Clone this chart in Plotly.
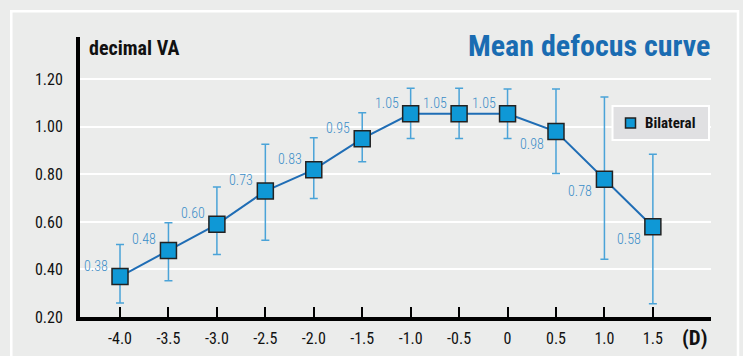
import plotly.graph_objects as go

# ---- data ----
defocus = [-4.0, -3.5, -3.0, -2.5, -2.0, -1.5, -1.0, -0.5, 0.0, 0.5, 1.0, 1.5]
mean_va = [0.37, 0.48, 0.59, 0.73, 0.82, 0.95, 1.055, 1.055, 1.055, 0.98, 0.78, 0.58]
upper_va = [0.505, 0.597, 0.747, 0.927, 0.954, 1.059, 1.162, 1.162, 1.159, 1.159, 1.126, 0.885]
lower_va = [0.259, 0.352, 0.463, 0.523, 0.699, 0.853, 0.951, 0.951, 0.951, 0.804, 0.443, 0.256]
value_labels = ["0.38", "0.48", "0.60", "0.73", "0.83", "0.95", "1.05", "1.05", "1.05",
                "0.98", "0.78", "0.58"]
label_side = ["above"] * 9 + ["below"] * 3
x_tick_vals = [-4.0, -3.5, -3.0, -2.5, -2.0, -1.5, -1.0, -0.5, 0.0, 0.5, 1.0, 1.5]
x_tick_text = ["-4.0", "-3.5", "-3.0", "-2.5", "-2.0", "-1.5", "-1.0", "-0.5", "0", "0.5", "1.0", "1.5"]
y_tick_vals = [0.2, 0.4, 0.6, 0.8, 1.0, 1.2]
y_tick_text = ["0.20", "0.40", "0.60", "0.80", "1.00", "1.20"]
series_name = "Bilateral"

# ---- styling ----
W, H = 743, 356
ML, MR, MT, MB = 80, 32, 37, 39
PW, PH = W - ML - MR, H - MT - MB
FONT = "Roboto Condensed, Liberation Sans Narrow, DejaVu Sans Condensed, sans-serif"
BG = "#ebeceb"
LINE_BLUE = "#1f6db5"
MARK_BLUE = "#0f98d6"
ERR_BLUE = "#4aa3d8"
LABEL_BLUE = "#3a8dc8"
TITLE_BLUE = "#1a6cb2"


def px(x):
    return (x - ML) / PW


def py(y):
    return (H - MB - y) / PH


err_plus = [u - m for u, m in zip(upper_va, mean_va)]
err_minus = [m - l for m, l in zip(mean_va, lower_va)]

fig = go.Figure()
fig.add_trace(go.Scatter(
    x=defocus, y=mean_va, mode="lines+markers", name=series_name,
    line=dict(color=LINE_BLUE, width=2),
    marker=dict(symbol="square", size=16, color=MARK_BLUE,
                line=dict(color="#222222", width=1.5)),
    error_y=dict(type="data", symmetric=False, array=err_plus, arrayminus=err_minus,
                 color=ERR_BLUE, thickness=1.5, width=4),
    showlegend=False, cliponaxis=False,
))

annotations = []
for xv, yv, txt, side in zip(defocus, mean_va, value_labels, label_side):
    annotations.append(dict(
        x=xv, y=yv, xref="x", yref="y", text=txt, showarrow=False,
        xanchor="right", yanchor="middle", xshift=-10,
        yshift=11 if side == "above" else -12,
        font=dict(family=FONT, size=14, color=LABEL_BLUE, weight=300)))

annotations += [
    dict(x=px(87), y=py(48), xref="paper", yref="paper", text="<b>decimal VA</b>",
         showarrow=False, xanchor="left", yanchor="middle",
         font=dict(family=FONT, size=20, color="#111111")),
    dict(x=px(712), y=py(45), xref="paper", yref="paper", text="<b>Mean defocus curve</b>",
         showarrow=False, xanchor="right", yanchor="middle",
         font=dict(family=FONT, size=30, color=TITLE_BLUE)),
    dict(x=px(694), y=py(338), xref="paper", yref="paper", text="<b>(D)</b>",
         showarrow=False, xanchor="center", yanchor="middle",
         font=dict(family=FONT, size=21, color="#111111")),
    dict(x=px(643), y=py(123), xref="paper", yref="paper", text="<b>" + series_name + "</b>",
         showarrow=False, xanchor="left", yanchor="middle",
         font=dict(family=FONT, size=15, color="#111111")),
]

shapes = [
    # outer white frame
    dict(type="rect", xref="paper", yref="paper", x0=px(11.3), x1=px(738), y0=py(380), y1=py(11.3),
         line=dict(color="white", width=2.5), fillcolor="rgba(0,0,0,0)", layer="below"),
    # legend box
    dict(type="rect", xref="paper", yref="paper", x0=px(612.5), x1=px(709), y0=py(140), y1=py(106),
         line=dict(color="white", width=2), fillcolor="#e0e0e2", layer="above"),
    # legend symbol
    dict(type="rect", xref="paper", yref="paper", x0=px(625.5), x1=px(635.5), y0=py(128), y1=py(118),
         line=dict(color="#222222", width=1.5), fillcolor=MARK_BLUE, layer="above"),
]

fig.update_layout(
    width=W, height=H,
    margin=dict(l=ML, r=MR, t=MT, b=MB, pad=0),
    paper_bgcolor=BG, plot_bgcolor=BG,
    font=dict(family=FONT, color="#111111"),
    annotations=annotations, shapes=shapes,
    showlegend=False,
)
fig.update_xaxes(
    range=[-4.413, 2.1], tickvals=x_tick_vals, ticktext=x_tick_text,
    showgrid=False, zeroline=False,
    showline=True, linecolor="black", linewidth=4,
    ticks="inside", ticklen=10, tickwidth=2, tickcolor="black",
    tickfont=dict(family=FONT, size=16, color="#111111"),
    ticklabelstandoff=4, automargin=False,
)
fig.update_yaxes(
    range=[0.2, 1.378], tickvals=y_tick_vals, ticktext=y_tick_text,
    showgrid=True, gridcolor="white", gridwidth=2, zeroline=False,
    showline=True, linecolor="black", linewidth=4,
    ticks="", tickfont=dict(family=FONT, size=16, color="#111111"),
    ticklabelstandoff=10, automargin=False,
)

fig.write_html(
    "out.html",
    config={"displayModeBar": False},
    post_script="document.body.style.margin='0';document.body.style.background='%s';" % BG,
)
